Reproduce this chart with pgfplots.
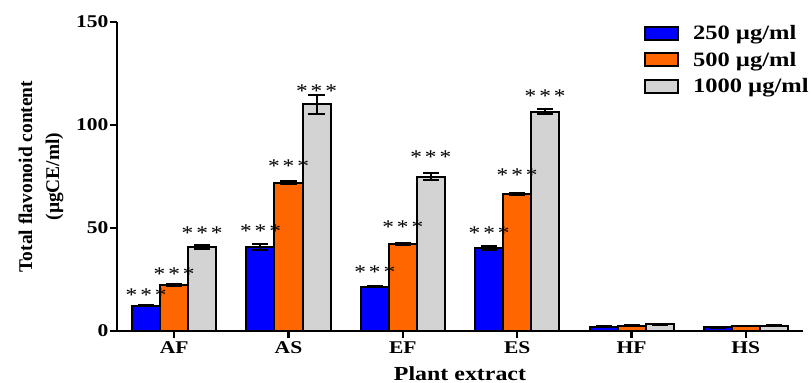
\documentclass[border=0pt]{standalone}
\usepackage{fontspec}
\setmainfont[FakeStretch=1.2]{Liberation Serif}
\newfontfamily\ylabfont{Liberation Serif}
\usepackage{pgfplots}
\pgfplotsset{compat=1.18}
\usepackage{pgfplotstable}
\definecolor{cblue}{RGB}{0,0,255}
\definecolor{corange}{RGB}{255,102,0}
\definecolor{cgray}{RGB}{211,211,211}
\newcommand\st{*\hspace{3bp}*\hspace{3bp}*}

\pgfplotstableread{
x y err off
0 12.3 0.4 12.7
1 40.9 1.5 18
2 21.5 0.3 17
3 40.1 1.0 17.6
4 2.0 0.2 0
5 1.9 0.2 0
}\tblblue
\pgfplotstableread{
x y err off
0 22.3 0.5 13
1 72.0 0.7 19
2 42.2 0.5 19
3 66.4 0.4 22
4 2.6 0.2 0
5 2.4 0.2 0
}\tblorange
\pgfplotstableread{
x y err off
0 40.9 1.0 16
1 110.0 4.5 16
2 74.9 1.7 22
3 106.5 1.4 17.7
4 3.3 0.3 0
5 2.6 0.2 0
}\tblgray

\begin{document}
\begin{tikzpicture}
\begin{axis}[
 scale only axis, width=686bp, height=309bp,
 xmin=-0.5, xmax=5.5, ymin=0, ymax=150,
 clip=false,
 axis lines*=left, axis line style={line width=2.2bp, -},
 ytick={0,50,100,150}, yticklabels={0,50,100,150},
 xtick={0,...,5}, xticklabels={AF,AS,EF,ES,HF,HS},
 tick align=outside, major tick length=7bp, tick style={line width=2.2bp, black},
 tick label style={font=\bfseries\fontsize{18}{18}\selectfont},
 yticklabel style={xshift=2bp},
 ybar=0pt, bar width=28bp,
 xlabel={Plant extract},
 xlabel style={at={(rel axis cs:0.5,-0.159)}, anchor=base, font=\bfseries\fontsize{20}{20}\selectfont},
 ylabel={Total flavonoid content\\(µgCE/ml)},
 ylabel style={at={(rel axis cs:-0.111,0.5)}, anchor=center, rotate=0, align=center, font=\ylabfont\bfseries\fontsize{19.5}{27}\selectfont},
 error bars/y dir=both, error bars/y explicit,
 error bars/error bar style={line width=2bp, black},
 error bars/error mark options={rotate=90, mark size=8bp, line width=2bp, black},
 visualization depends on={\thisrow{off}\as\soff},
 nodes near coords={\ifdim\soff pt>0pt\st\fi},
 nodes near coords style={font=\normalfont\fontsize{19.5}{19.5}\selectfont, anchor=center, yshift={(\soff-2.5)*1bp}, black},
 legend image code/.code={\draw[#1, draw=black, line width=2bp] (0bp,-6.5bp) rectangle (33bp,6.5bp);},
 legend style={at={(rel axis cs:0.768,0.99)}, anchor=north west, draw=none, fill=none, inner sep=0pt,
   nodes={inner sep=0pt}, row sep=11bp, font=\bfseries\fontsize{20.5}{21}\selectfont,
   /tikz/every odd column/.append style={column sep=14bp}},
 legend cell align=left,
]
\addplot[fill=cblue, draw=black, line width=2bp] table[x=x,y=y,y error=err] {\tblblue};
\addplot[fill=corange, draw=black, line width=2bp] table[x=x,y=y,y error=err] {\tblorange};
\addplot[fill=cgray, draw=black, line width=2bp] table[x=x,y=y,y error=err] {\tblgray};
\legend{250 µg/ml, 500 µg/ml, 1000 µg/ml}
\coordinate (O) at (rel axis cs:0,0);
\end{axis}
\pgfresetboundingbox
\path[use as bounding box] ([shift={(-117bp,-52bp)}]O) rectangle ++(812bp,383bp);
\end{tikzpicture}
\end{document}
